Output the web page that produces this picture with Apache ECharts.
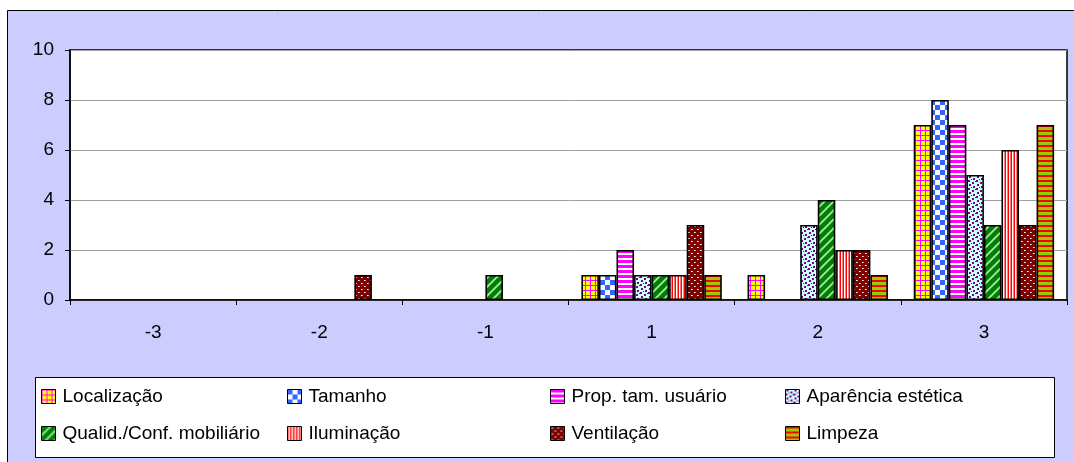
<!DOCTYPE html>
<html><head><meta charset="utf-8">
<script src="https://cdn.jsdelivr.net/npm/echarts@6/dist/echarts.min.js"></script>
<style>html,body{margin:0;padding:0;background:#fff}#c{width:1074px;height:462px}</style>
</head><body><div id="c"></div>
<script>
const categories = ['-3','-2','-1','1','2','3'];
const seriesNames = ['Localização','Tamanho','Prop. tam. usuário','Aparência estética','Qualid./Conf. mobiliário','Iluminação','Ventilação','Limpeza'];
const localizacao = [0,0,0,1,1,7];
const tamanho     = [0,0,0,1,0,8];
const propTam     = [0,0,0,2,0,7];
const aparencia   = [0,0,0,1,3,5];
const qualid      = [0,0,1,1,4,3];
const iluminacao  = [0,0,0,1,2,6];
const ventilacao  = [0,1,0,3,2,3];
const limpeza     = [0,0,0,1,1,7];
const yTicks = [0,2,4,6,8,10];

function pat(w,h,fn){const c=document.createElement('canvas');c.width=w;c.height=h;const g=c.getContext('2d');fn(g,w,h);return {image:c,repeat:'repeat'};}
const patterns = [
  pat(5,5,(g)=>{g.fillStyle='#FFFF00';g.fillRect(0,0,5,5);g.fillStyle='#FF00FF';g.fillRect(0,0,1,5);g.fillRect(0,0,5,1);}),
  pat(10,10,(g)=>{g.fillStyle='#fff';g.fillRect(0,0,10,10);g.fillStyle='#3366FF';g.fillRect(0,0,5,5);g.fillRect(5,5,5,5);}),
  pat(6,5,(g)=>{g.fillStyle='#fff';g.fillRect(0,0,6,5);g.fillStyle='#FF00FF';g.fillRect(0,0,6,3);}),
  pat(8,8,(g)=>{g.fillStyle='#CCFFFF';g.fillRect(0,0,8,8);g.fillStyle='#800080';g.fillRect(1,0,2,2);g.fillRect(5,2,2,2);g.fillRect(0,4,2,2);g.fillRect(4,6,2,2);g.fillRect(3,3,1,1);g.fillRect(7,5,1,1);}),
  pat(9,9,(g)=>{g.fillStyle='#008000';g.fillRect(0,0,9,9);g.strokeStyle='#A8E8A8';g.lineWidth=1.8;g.beginPath();g.moveTo(-2,11);g.lineTo(11,-2);g.moveTo(-2,2);g.lineTo(2,-2);g.moveTo(7,11);g.lineTo(11,7);g.stroke();}),
  pat(3,3,(g)=>{g.fillStyle='#fff';g.fillRect(0,0,3,3);g.fillStyle='#FF0000';g.fillRect(0,0,1,3);g.fillStyle='#FF8080';g.fillRect(2,0,1,3);}),
  pat(6,6,(g)=>{g.fillStyle='#800000';g.fillRect(0,0,6,6);g.fillStyle='#FFFFFF';g.fillRect(1,1,1,1);g.fillRect(4,4,1,1);g.fillStyle='#E0A0A0';g.fillRect(2,1,1,1);g.fillRect(5,4,1,1);}),
  pat(5,5,(g)=>{g.fillStyle='#99CC00';g.fillRect(0,0,5,5);g.fillStyle='#FF0000';g.fillRect(0,0,5,2);})
];
const values = [localizacao,tamanho,propTam,aparencia,qualid,iluminacao,ventilacao,limpeza];

const FONT = 'Liberation Sans';
const series = seriesNames.map((n,i)=>({
  name:n, type:'bar',
  data:values[i].map(v=> v===0 ? {value:0, itemStyle:{borderWidth:0}} : v),
  barGap:'0%', barCategoryGap:'15.5%',
  itemStyle:{color:patterns[i], borderColor:'#000', borderWidth:1.6},
  emphasis:{disabled:true}, animation:false
}));

const legendCols = [[0,4],[1,5],[2,6],[3,7]];
const legendLefts = [41,287,550,785];
const legends = legendCols.map((idx,k)=>({
  data: idx.map(i=>seriesNames[i]), orient:'vertical', left:legendLefts[k], top:387,
  itemWidth:14, itemHeight:14, itemGap:18, icon:'rect',
  itemStyle:{borderColor:'#000', borderWidth:1},
  textStyle:{fontFamily:FONT, fontSize:19, color:'#000', lineHeight:19, padding:[0,0,0,2]},
  selectedMode:false, padding:0
}));

const chart = echarts.init(document.getElementById('c'), null, {renderer:'canvas'});
chart.setOption({
  animation:false,
  backgroundColor:'#fff',
  graphic:[
    {type:'rect', z:-10, shape:{x:7.5,y:10.5,width:1100,height:500}, style:{fill:'#CCCCFF', stroke:'#000', lineWidth:1}},
    {type:'rect', z:-5, shape:{x:35.5,y:377.5,width:1019,height:80}, style:{fill:'#fff', stroke:'#000', lineWidth:1}}
  ],
  grid:{left:70, top:50, right:7, bottom:162, show:true, backgroundColor:'#fff', borderColor:'#000', borderWidth:1.5},
  legend:legends,
  xAxis:{type:'category', data:categories,
    axisLine:{lineStyle:{color:'#000', width:1.5}},
    axisTick:{show:true, alignWithLabel:false, length:5, lineStyle:{color:'#000'}},
    axisLabel:{fontFamily:FONT, fontSize:19, color:'#000', margin:23},
    splitLine:{show:false}},
  yAxis:{type:'value', min:yTicks[0], max:yTicks[yTicks.length-1], interval:2,
    axisLine:{show:true, lineStyle:{color:'#000', width:1.5}},
    axisTick:{show:true, length:5, lineStyle:{color:'#000'}},
    axisLabel:{fontFamily:FONT, fontSize:19, color:'#000', margin:16},
    splitLine:{lineStyle:{color:'#A0A0A0', width:1}}},
  series:series
});
</script></body></html>
